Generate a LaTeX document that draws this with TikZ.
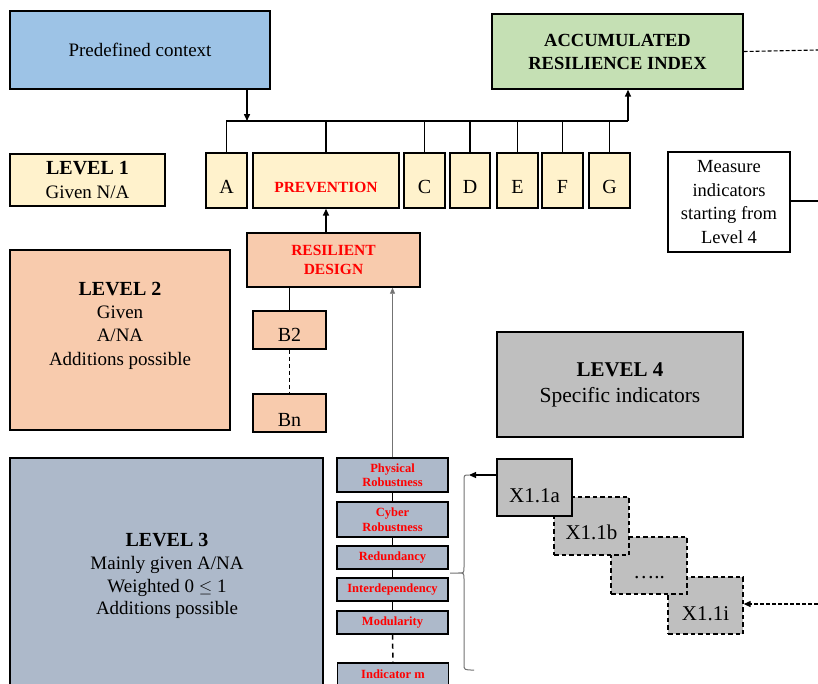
\documentclass[tikz,border=0pt]{standalone}
\usepackage{fontspec}
\setmainfont{Liberation Serif}
\usetikzlibrary{arrows.meta,calc}
\definecolor{ctxblue}{HTML}{9DC3E6}
\definecolor{idxgreen}{HTML}{C5E0B4}
\definecolor{lvyellow}{HTML}{FFF2CC}
\definecolor{lvpeach}{HTML}{F8CBAD}
\definecolor{lvslate}{HTML}{ADB9CA}
\definecolor{lvgray}{HTML}{BFBFBF}
\definecolor{indred}{HTML}{FF0000}
\begin{document}
\begin{tikzpicture}[x=1pt,y=-1pt,
  base/.style={font=\fontsize{19}{22.8}\selectfont, align=center, inner sep=1pt},
  box/.style={base, draw=black, line width=1.4pt},
  dbox/.style={base, draw=black, line width=1.3pt, dash pattern=on 4.5pt off 3pt, fill=lvgray},
  letter/.style={box, fill=lvyellow, minimum width=41, minimum height=55,
    font=\fontsize{20}{24}\selectfont, text height=26pt, text depth=0pt},
  redlbl/.style={text=indred, font=\fontsize{15.5}{19}\selectfont\bfseries},
  indbox/.style={box, fill=lvslate, minimum width=111, text=indred,
    font=\fontsize{12.5}{14.5}\selectfont\bfseries},
  xfont/.style={font=\fontsize{21}{24}\selectfont, text depth=0pt},
  link/.style={draw=black, line width=1.5pt},
  arr/.style={link, -{Triangle[length=7pt,width=6pt]}},
  thinarr/.style={draw=black!55, line width=0.8pt, -{Triangle[length=6pt,width=5pt]}}
]
\clip (0,0) rectangle (818,683);
\fill[white] (0,0) rectangle (818,683);

% top row
\node[box, fill=ctxblue, minimum width=260, minimum height=78] (ctx) at (140,50) {Predefined context};
\node[box, fill=idxgreen, minimum width=251, minimum height=75,
  font=\fontsize{18.5}{23}\selectfont\bfseries] (ari) at (617.5,51.5) {ACCUMULATED\\RESILIENCE INDEX};

% level 1
\node[box, fill=lvyellow, minimum width=155, minimum height=52, font=\fontsize{19}{24.5}\selectfont] (l1) at (87.5,180)
  {\textbf{\fontsize{20}{24}\selectfont LEVEL 1}\\Given N/A};
\node[letter] (A) at (226.5,180.5) {A};
\node[box, fill=lvyellow, minimum width=146, minimum height=55, redlbl, text height=23pt, text depth=0pt] (prev) at (326,180.5) {PREVENTION};
\node[letter] (C) at (424.5,180.5) {C};
\node[letter, minimum width=40] (D) at (470,180.5) {D};
\node[letter] (E) at (517.5,180.5) {E};
\node[letter] (F) at (562.5,180.5) {F};
\node[letter] (G) at (609.5,180.5) {G};

\node[box, fill=white, line width=1.1pt, minimum width=122, minimum height=100,
  font=\fontsize{18.5}{23.5}\selectfont] (meas) at (729,202) {Measure\\indicators\\starting from\\Level 4};

% level 2
\node[box, fill=lvpeach, minimum width=220, minimum height=180] (l2) at (120,340) {};
\node[base, font=\fontsize{19}{23.3}\selectfont] (l2txt) at (120,325.5) {\textbf{\fontsize{20}{24}\selectfont LEVEL 2}\\Given\\A/NA\\Additions possible};
\node[box, fill=lvpeach, minimum width=173, minimum height=54, redlbl] (rd) at (333.5,260) {RESILIENT\\DESIGN};
\node[box, fill=lvpeach, minimum width=73, minimum height=38, font=\fontsize{20}{24}\selectfont,
  text height=23pt, text depth=0pt] (b2) at (289.5,330) {B2};
\node[box, fill=lvpeach, minimum width=73, minimum height=38, font=\fontsize{20}{24}\selectfont,
  text height=27pt, text depth=0pt] (bn) at (289.5,413) {Bn};

% level 4
\node[box, fill=lvgray, minimum width=246, minimum height=105, font=\fontsize{21.5}{26}\selectfont] (l4) at (620,384.5)
  {\textbf{\fontsize{21}{25}\selectfont LEVEL 4}\\Specific indicators};

% level 3
\node[box, fill=lvslate, minimum width=313, minimum height=250] (l3) at (166.5,583) {};
\node[base] (l3txt) at (167,576) {\textbf{\fontsize{20}{24}\selectfont LEVEL 3}\\Mainly given A/NA\\Weighted 0 $\leq$ 1\\Additions possible};

\node[indbox, minimum height=34] (phys) at (392.5,475) {Physical\\Robustness};
\node[indbox, minimum height=35] (cyber) at (392.5,519.5) {Cyber\\Robustness};
\node[indbox, minimum height=23] (redun) at (392.5,557.5) {Redundancy};
\node[indbox, minimum height=23] (inter) at (392.5,589.5) {Interdependency};
\node[indbox, minimum height=23] (modul) at (392.5,622.5) {Modularity};
\node[indbox, minimum height=23] (indm) at (393,674.5) {Indicator m};

% specific indicators, back to front
\node[dbox, xfont, text height=29pt, minimum width=75, minimum height=57] (x1i) at (705.5,605.5) {X1.1i};
\node[dbox, xfont, text height=26pt, minimum width=76, minimum height=57] (xdots) at (649,565.5) {…..};
\node[dbox, xfont, text height=26pt, minimum width=75, minimum height=58] (x1b) at (591.5,526) {X1.1b};
\node[box, xfont, text height=29pt, fill=lvgray, line width=1.3pt, minimum width=75, minimum height=57] (x1a) at (534.5,487.5) {X1.1a};

% connectors
\coordinate (ctxout) at (247,89);
\coordinate (busR) at (628,121);
\coordinate (edgeTop) at (818,50);
\coordinate (edgeMid) at (818,201);
\coordinate (edgeLow) at (818,604);
\coordinate (braceTop) at (469,475);

\draw[arr] (ctxout) -- (ctxout |- busR);
\draw[link] (A.north) |- (busR);
\draw[arr] (busR) -- (busR |- ari.south);
\foreach \n in {prev,C,D,E,F,G} \draw[link] (\n.north) -- (\n.north |- busR);

\draw[link, dash pattern=on 4pt off 2pt, line width=1.1pt] (ari.east) -- (edgeTop);
\draw[link, line width=1.1pt] (meas.east |- edgeMid) -- (edgeMid);

\draw[arr] (rd.north -| prev.south) -- (prev.south);
\draw[link] (b2.north) -- (b2.north |- rd.south);
\draw[link, dash pattern=on 4pt off 3pt] (b2.south) -- (bn.north);
\draw[thinarr] (phys.north) -- (phys.north |- rd.south);

\draw[link] (phys.south) -- (cyber.north);
\draw[link] (cyber.south) -- (redun.north);
\draw[link] (redun.south) -- (inter.north);
\draw[link] (inter.south) -- (modul.north);
\draw[link, dash pattern=on 5pt off 4pt] (modul.south) -- (indm.north);

% brace gathering the indicators
\draw[draw=black!55, line width=1pt]
  (braceTop) .. controls (464,475) .. (464,481) -- (464,567)
  .. controls (464,573) .. (458,573) -- (450,573)
  (458,573) .. controls (464,573) .. (464,579) -- (464,664)
  .. controls (464,670) .. (474,670);
\draw[arr, line width=1.2pt] (x1a.west |- braceTop) -- (braceTop);
\draw[arr, dash pattern=on 4pt off 2pt, line width=1.1pt] (edgeLow) -- (x1i.east |- edgeLow);
\end{tikzpicture}
\end{document}
